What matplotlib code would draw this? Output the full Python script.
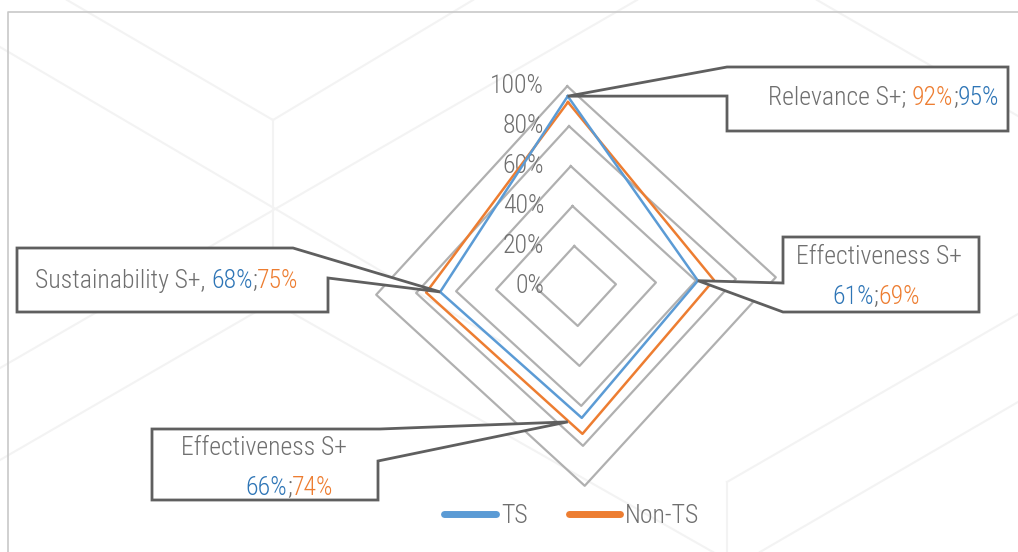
import numpy as np
import matplotlib
matplotlib.use('Agg')
import matplotlib.pyplot as plt
from matplotlib import font_manager
from matplotlib.lines import Line2D
from matplotlib.patches import Polygon

# data
categories = ['Relevance S+', 'Effectiveness S+', 'Effectiveness S+ (2)', 'Sustainability S+']
ts_values = [0.95, 0.61, 0.66, 0.68]
non_ts_values = [0.92, 0.69, 0.74, 0.75]
grid_levels = [0.2, 0.4, 0.6, 0.8, 1.0]
tick_levels = [0.0, 0.2, 0.4, 0.6, 0.8, 1.0]
tick_labels = ['0%', '20%', '40%', '60%', '80%', '100%']
series_names = ['TS', 'Non-TS']

BLUE = '#5b9bd5'
ORANGE = '#ed7d31'
BLUE_TXT = '#2e75b6'
GRAY_TXT = '#6f6f6f'
BOX = '#5f5f5f'
GRID = '#b0b0b0'

# pick a narrow font if there is one
entries = font_manager.fontManager.ttflist
FONT, STRETCH = 'DejaVu Sans', 'normal'
for fam in ['Liberation Sans Narrow', 'Roboto Condensed']:
    if any(f.name == fam for f in entries):
        FONT, STRETCH = fam, 'normal'
        break
else:
    for fam in ['Roboto', 'Noto Sans', 'DejaVu Sans']:
        if any(f.name == fam and 'condensed' in str(f.stretch) for f in entries):
            FONT, STRETCH = fam, 'condensed'
            break
WEIGHT = 'light'
FS = 18.5

W, H = 1018, 552
fig = plt.figure(figsize=(W / 100, H / 100), dpi=100)
fig.patch.set_facecolor('white')

# faint decorative background lines (pixel coords, y from top)
bg = [((67, 0), (273, 120)), ((473, 0), (273, 120)), ((273, 120), (273, 302)),
      ((0, 47), (500, 341)), ((0, 368), (637, 0)), ((273, 302), (0, 460)),
      ((273, 302), (727, 560)), ((817, 0), (1018, 116)), ((727, 482), (1018, 314)),
      ((727, 482), (727, 552)), ((760, 552), (1018, 402))]
for (x0, y0), (x1, y1) in bg:
    fig.add_artist(Line2D([x0 / W, x1 / W], [1 - y0 / H, 1 - y1 / H], color='#f3f3f3', lw=1.5,
                          transform=fig.transFigure, zorder=0))
# chart-area border (top and left)
fig.add_artist(Line2D([8 / W, 8 / W, 1], [0, 1 - 12 / H, 1 - 12 / H], color='#c8c8c8', lw=1.2,
                      transform=fig.transFigure, zorder=0))

cx, cy, R = 576, 286, 200
ax = fig.add_axes([(cx - R) / W, (H - cy - R) / H, 2 * R / W, 2 * R / H], projection='polar')
tilt = np.deg2rad(2.5)
ax.set_theta_offset(np.pi / 2 + tilt)
ax.set_theta_direction(-1)
ax.set_ylim(0, 1.0)
ax.patch.set_visible(False)
ax.spines['polar'].set_visible(False)
ax.set_xticks([])
ax.set_yticks([])
ax.grid(False)

angles = np.arange(len(categories)) * 2 * np.pi / len(categories)
closed = np.append(angles, angles[0])

for lvl in grid_levels:
    ax.plot(closed, [lvl] * len(closed), color=GRID, lw=1.6, zorder=1, clip_on=False)

ts_closed = ts_values + ts_values[:1]
non_closed = non_ts_values + non_ts_values[:1]
ax.plot(closed, non_closed, color=ORANGE, lw=1.8, zorder=3, clip_on=False)
ax.plot(closed, ts_closed, color=BLUE, lw=1.8, zorder=4, clip_on=False)

# radial tick labels left of the vertical axis
lbl_tr = matplotlib.transforms.offset_copy(ax.transData, fig=fig, x=-32, y=0, units='dots')
for v, t in zip(tick_levels, tick_labels):
    ax.text(tilt, v, t, transform=lbl_tr, ha='right', va='center', fontsize=FS,
            color=GRAY_TXT, family=FONT, fontstretch=STRETCH, fontweight=WEIGHT, zorder=2)

fig.canvas.draw()
renderer = fig.canvas.get_renderer()


def px(x, y):
    return x / W, 1 - y / H


def text_w(s):
    t = fig.text(0, 0, s, fontsize=FS, family=FONT, fontstretch=STRETCH, fontweight=WEIGHT)
    w = t.get_window_extent(renderer).width
    t.remove()
    return w


def rich(x, y, parts, ha='left'):
    full = ''.join(p for p, _ in parts)
    total = text_w(full)
    start = {'left': x, 'center': x - total / 2, 'right': x - total}[ha]
    wx = text_w('X')
    prefix = ''
    for s, c in parts:
        off = text_w(prefix + 'X') - wx if prefix else 0
        fig.text(*px(start + off, y), s, color=c, ha='left', va='center', fontsize=FS,
                 family=FONT, fontstretch=STRETCH, fontweight=WEIGHT, zorder=10)
        prefix += s


def tip(i):
    x, y = ax.transData.transform((angles[i], ts_values[i]))
    return x, H - y


def callout(points):
    poly = Polygon([px(x, y) for x, y in points], closed=True, facecolor='white',
                   edgecolor=BOX, lw=2.0, transform=fig.transFigure, zorder=8,
                   joinstyle='miter')
    fig.add_artist(poly)


def pct(v):
    return f'{round(v * 100)}%'


# Relevance (top)
t = tip(0)
callout([t, (727, 67), (1008, 67), (1008, 131), (727, 131), (727, 96)])
rich(999, 98, [('Relevance S+; ', GRAY_TXT), (pct(non_ts_values[0]), ORANGE), (';', GRAY_TXT),
               (pct(ts_values[0]), BLUE_TXT)], ha='right')

# Effectiveness (right)
t = tip(1)
callout([t, (783, 283), (783, 237), (979, 237), (979, 312), (783, 312)])
rich(879, 257, [('Effectiveness S+', GRAY_TXT)], ha='center')
rich(876, 297, [(pct(ts_values[1]), BLUE_TXT), (';', GRAY_TXT), (pct(non_ts_values[1]), ORANGE)],
     ha='center')

# Effectiveness (bottom)
t = tip(2)
t = (t[0] - 14, t[1] + 4)
callout([(152, 429), (380, 429), t, (378, 461), (378, 500), (152, 500)])
rich(264, 448, [('Effectiveness S+', GRAY_TXT)], ha='center')
rich(289, 488, [(pct(ts_values[2]), BLUE_TXT), (';', GRAY_TXT), (pct(non_ts_values[2]), ORANGE)],
     ha='center')

# Sustainability (left)
t = tip(3)
callout([(17, 248), (293, 248), t, (328, 278), (328, 312), (17, 312)])
rich(35, 281, [('Sustainability S+, ', GRAY_TXT), (pct(ts_values[3]), BLUE_TXT), (';', GRAY_TXT),
               (pct(non_ts_values[3]), ORANGE)], ha='left')

# legend
handles = [Line2D([], [], color=BLUE, lw=5, solid_capstyle='round'),
           Line2D([], [], color=ORANGE, lw=5, solid_capstyle='round')]
fig.legend(handles, series_names, loc='center', bbox_to_anchor=px(572, 516), ncol=2,
           frameon=False, handlelength=2.0, handletextpad=0.2, columnspacing=1.6,
           prop={'family': FONT, 'size': FS, 'stretch': STRETCH, 'weight': WEIGHT},
           labelcolor=GRAY_TXT)

fig.savefig('out.png', dpi=100, facecolor='white')
